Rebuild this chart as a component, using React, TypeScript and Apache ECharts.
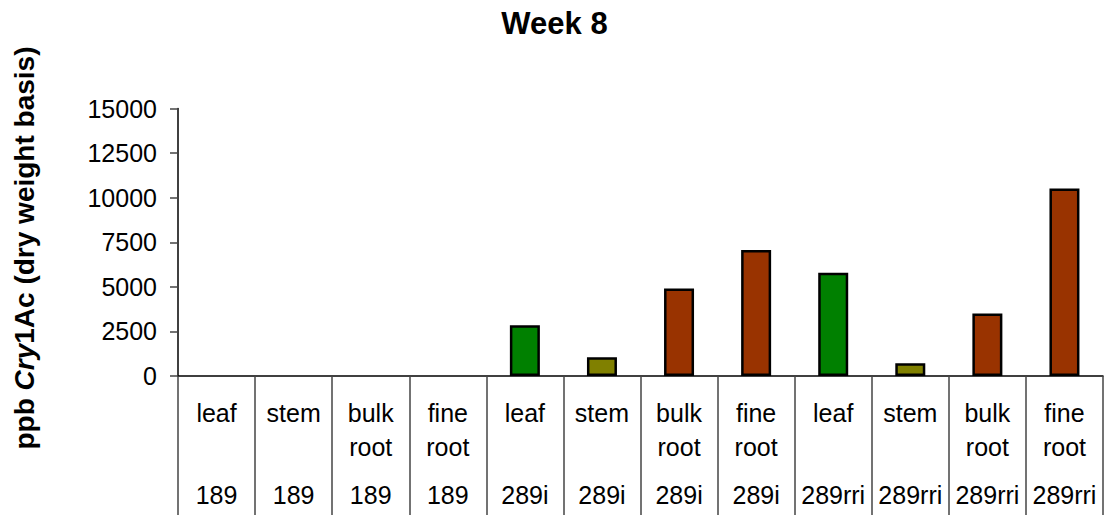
import React, { useEffect, useRef } from "react";
import * as echarts from "echarts";

const tissues = ["leaf", "stem", "bulk\nroot", "fine\nroot", "leaf", "stem", "bulk\nroot", "fine\nroot", "leaf", "stem", "bulk\nroot", "fine\nroot"];
const lines = ["189", "189", "189", "189", "289i", "289i", "289i", "289i", "289rri", "289rri", "289rri", "289rri"];
const values = [0, 0, 0, 0, 2850, 1050, 4900, 7060, 5790, 710, 3510, 10520];
const yTicks = [0, 2500, 5000, 7500, 10000, 12500, 15000];
const tissueColors: Record<string, string> = {
  leaf: "#008000",
  stem: "#808000",
  "bulk\nroot": "#993300",
  "fine\nroot": "#993300",
};

const FONT = "'Liberation Sans', Arial, sans-serif";

export default function App() {
  const ref = useRef<HTMLDivElement>(null);
  useEffect(() => {
    if (!ref.current) return;
    const chart = echarts.init(ref.current, null, { renderer: "svg" });
    const categories = tissues.map((t, i) => i + "");
    chart.setOption({
      animation: false,
      backgroundColor: "#ffffff",
      title: {
        text: "Week 8",
        left: "center",
        top: 8,
        padding: 0,
        textStyle: { fontFamily: FONT, fontSize: 31, fontWeight: "bold", color: "#000" },
      },
      grid: { left: 178, right: 6, top: 108.5, bottom: 139, containLabel: false },
      xAxis: {
        type: "category",
        data: categories,
        boundaryGap: true,
        axisLine: { lineStyle: { color: "#000", width: 1.5 } },
        axisTick: { show: true, length: 145, lineStyle: { color: "#444", width: 1.5 } },
        axisLabel: {
          interval: 0,
          margin: 20,
          formatter: (v: string) => {
            const i = Number(v);
            const parts = tissues[i].split("\n");
            const l1 = parts[0];
            const l2 = parts[1] || " ";
            return `{t|${l1}}\n{t|${l2}}\n{n|${lines[i]}}`;
          },
          rich: {
            t: { fontFamily: FONT, fontSize: 25, lineHeight: 34, color: "#000", align: "center" },
            n: { fontFamily: FONT, fontSize: 25, lineHeight: 62, color: "#000", align: "center" },
          },
        },
      },
      yAxis: {
        type: "value",
        min: 0,
        max: 15000,
        interval: 2500,
        splitLine: { show: false },
        axisLine: { show: true, lineStyle: { color: "#000", width: 1.5 } },
        axisTick: { show: true, length: 8, lineStyle: { color: "#444", width: 1.5 } },
        axisLabel: {
          margin: 21,
          fontFamily: FONT,
          fontSize: 25,
          color: "#000",
          formatter: (v: number) => (yTicks.includes(v) ? String(v) : ""),
        },
      },
      graphic: [
        {
          type: "text",
          x: 24,
          y: 248,
          rotation: Math.PI / 2,
          style: {
            text: "{a|ppb }{b|Cry}{a|1Ac (dry weight basis)}",
            align: "center",
            verticalAlign: "middle",
            rich: {
              a: { fontFamily: FONT, fontSize: 28, fontWeight: "bold", fill: "#000", color: "#000" },
              b: { fontFamily: FONT, fontSize: 28, fontWeight: "bold", fontStyle: "italic", fill: "#000", color: "#000" },
            },
          },
        },
      ],
      series: [
        {
          type: "bar",
          barWidth: 30,
          data: values.map((v, i) => ({
            value: v === 0 ? "-" : v,
            itemStyle: { color: tissueColors[tissues[i]], borderColor: "#000", borderWidth: 2.5 },
          })),
        },
      ],
    });
    return () => chart.dispose();
  }, []);
  return (
    <div
      ref={ref}
      style={{ position: "fixed", left: 0, top: 0, width: 1109, height: 515, background: "#fff" }}
    />
  );
}
